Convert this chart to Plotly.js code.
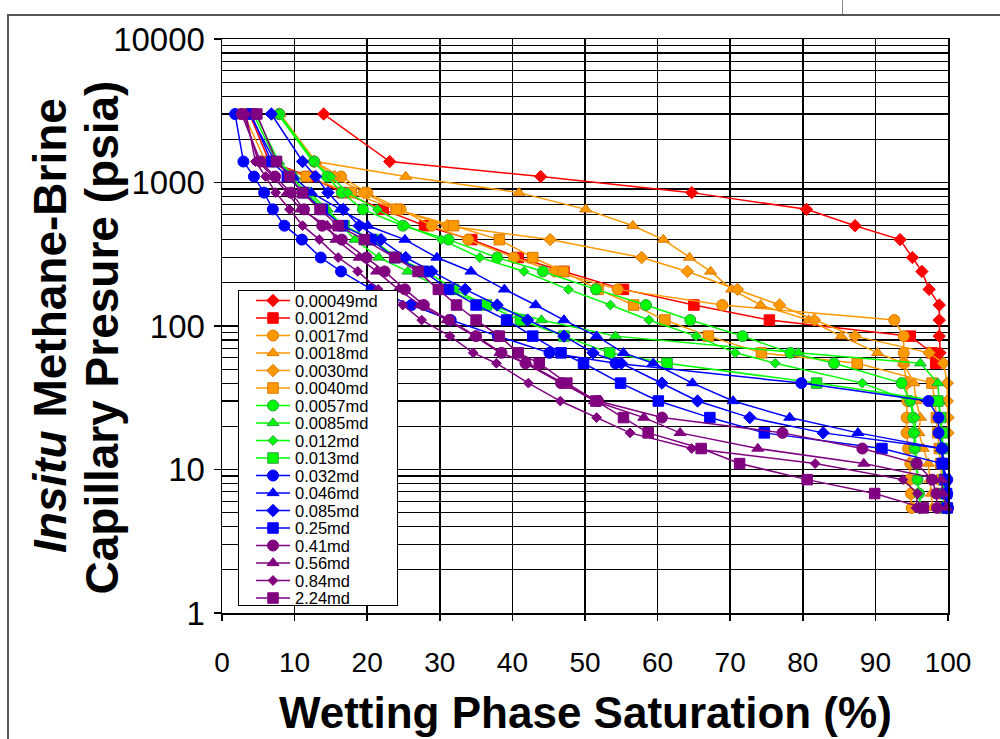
<!DOCTYPE html>
<html>
<head>
<meta charset="utf-8">
<script src="https://cdn.plot.ly/plotly-3.0.1.min.js"></script>
<style>
  html, body { margin: 0; padding: 0; background: #fff; overflow: hidden; }
  #frame { position: absolute; left: 7px; top: 14px; width: 1000px; height: 740px;
           border-left: 2px solid #555; border-top: 2px solid #555; }
  #tab { position: absolute; left: 842px; top: 0; width: 0; height: 14px; border-left: 1px solid #888; }
  #chart { position: absolute; left: 0; top: 0; width: 1000px; height: 739px; }
</style>
</head>
<body>
<div id="frame"></div>
<div id="tab"></div>
<div id="chart"></div>
<script>
// Capillary pressure steps (psia) shared by every sample
const pc = [3000, 1400, 1100, 850, 650, 500, 400, 300, 240, 180, 140, 110,
            85, 65, 55, 40, 30, 23, 18, 14, 11, 8.5, 6.8, 5.4];

// Sample permeabilities (legend labels)
const samples = ["0.00049md", "0.0012md", "0.0017md", "0.0018md", "0.0030md", "0.0040md",
                 "0.0057md", "0.0085md", "0.012md", "0.013md", "0.032md", "0.046md",
                 "0.085md", "0.25md", "0.41md", "0.56md", "0.84md", "2.24md"];

// Wetting phase saturation (%) at each pressure step, one array per sample
const sw_00049 = [14.0, 23.1, 43.9, 64.7, 80.5, 87.2, 93.4, 95.1, 96.4, 97.4, 98.8, 98.8, 98.8, 98.9];
const sw_0012  = [3.8, 6.5, 12.0, 16.6, 22.2, 27.9, 34.4, 40.8, 47.1, 55.3, 65.0, 75.4, 94.8, 97.8, 98.3];
const sw_0017  = [7.9, 12.7, 16.4, 20.0, 24.6, 28.9, 33.9, 40.2, 45.9, 54.5, 68.9, 92.6, 93.9, 93.9, 93.9, 94.3, 94.4, 94.3, 94.3, 94.5, 94.8, 94.7, 94.9, 95.0];
const sw_0018  = [8.0, 12.9, 25.3, 40.9, 50.1, 56.6, 60.8, 64.4, 67.3, 70.2, 74.2, 80.8, 85.3, 90.3, 93.9, 95.3, 95.6, 96.2, 96.0, 96.6, 97.3, 97.5, 97.7, 97.8];
const sw_0030  = [7.9, 12.7, 15.5, 19.5, 24.0, 31.0, 45.2, 57.8, 64.1, 71.0, 76.8, 81.6, 87.2, 97.4, 99.4, 99.9, 99.9, 100, 100];
const sw_0040  = [3.0, 6.0, 11.6, 17.8, 24.0, 31.9, 38.2, 42.8, 47.0, 51.8, 56.7, 61.0, 67.0, 74.3, 87.5, 97.8, 98.2, 98.4, 98.6, 98.8, 99.0, 99.2, 99.3, 99.5];
const sw_0057  = [7.9, 12.7, 14.5, 16.5, 19.4, 24.9, 31.2, 37.9, 44.2, 51.5, 58.4, 64.5, 71.7, 78.3, 84.3, 93.6, 94.8, 95.2, 95.3, 95.4, 95.6, 95.8, 96.0, 96.2];
const sw_0085  = [4.6, 7.8, 10.0, 12.0, 14.5, 16.5, 18.3, 21.6, 25.6, 30.5, 36.5, 44.0, 54.2, 79.4, 96.2, 98.6, 98.8, 99.0, 99.1, 99.2, 99.3, 99.4, 99.4, 99.5];
const sw_012   = [7.7, 12.5, 15.0, 17.3, 21.4, 25.3, 30.2, 35.5, 41.6, 47.7, 53.5, 58.8, 65.3, 70.7, 76.2, 88.2, 94.8, 95.5, 95.5, 95.5, 95.7, 95.9, 96.0, 96.3];
const sw_013   = [4.3, 7.5, 9.5, 11.6, 14.0, 16.8, 20.8, 24.0, 28.2, 31.9, 36.4, 41.1, 47.1, 53.4, 61.3, 81.9, 98.6, 99.0, 99.2, 99.3, 99.4, 99.5, 99.6, 99.7];
const sw_032   = [1.8, 2.95, 4.4, 5.8, 7.0, 8.6, 11.0, 13.6, 16.4, 20.6, 26.1, 31.5, 38.0, 45.1, 54.2, 79.8, 97.3, 98.7, 98.7, 99.2, 99.2, 99.9, 99.9, 100];
const sw_046   = [3.8, 7.3, 9.8, 12.3, 16.3, 20.1, 25.2, 29.6, 34.3, 38.9, 43.2, 47.1, 51.6, 55.3, 59.4, 64.8, 70.4, 78.2, 87.6, 99.1, 99.4, 99.6, 99.8, 99.9];
const sw_085   = [6.8, 11.1, 12.9, 14.6, 16.7, 18.9, 21.9, 25.3, 28.9, 33.5, 37.9, 42.1, 47.1, 51.1, 55.0, 60.6, 65.5, 72.7, 82.8, 99.2, 99.4, 99.6, 99.7, 99.8];
const sw_25    = [4.0, 6.8, 9.0, 11.2, 13.8, 16.6, 20.5, 23.8, 27.8, 31.2, 35.0, 39.2, 42.8, 46.7, 49.8, 54.9, 60.1, 67.2, 74.7, 90.9, 99.2, 99.6, 99.8, 99.9];
const sw_41    = [2.7, 5.3, 7.3, 9.5, 11.3, 13.8, 16.5, 19.9, 22.4, 25.2, 27.8, 31.3, 35.0, 38.5, 41.8, 46.7, 51.8, 60.6, 77.2, 88.2, 95.7, 97.8, 98.4, 98.5];
const sw_56    = [3.0, 5.0, 7.0, 9.0, 10.8, 14.5, 15.7, 18.9, 21.3, 24.3, 27.3, 31.0, 34.8, 38.3, 42.0, 47.0, 51.3, 58.1, 63.1, 73.8, 88.4, 99.1, 99.3, 99.8];
const sw_84    = [3.3, 4.6, 6.0, 7.4, 9.3, 11.1, 13.4, 16.0, 18.7, 21.5, 24.9, 27.5, 31.4, 34.6, 37.8, 42.2, 46.6, 51.6, 56.2, 64.7, 81.7, 93.8, 95.8, 95.6];
const sw_224   = [4.8, 7.5, 9.3, 11.1, 13.5, 16.0, 19.6, 23.8, 27.0, 29.8, 32.3, 35.0, 38.2, 40.8, 43.7, 47.5, 51.5, 55.3, 58.7, 66.0, 71.3, 80.6, 89.9, 96.6];

const satSeries = [sw_00049, sw_0012, sw_0017, sw_0018, sw_0030, sw_0040,
                   sw_0057, sw_0085, sw_012, sw_013, sw_032, sw_046,
                   sw_085, sw_25, sw_41, sw_56, sw_84, sw_224];

// Axis ticks
const xTicks = [0, 10, 20, 30, 40, 50, 60, 70, 80, 90, 100];
const yTicks = [1, 10, 100, 1000, 10000];
const yTickText = ["1", "10", "100", "1000", "10000"];

// Styling per family of samples
const RED = "#FF0000", ORANGE = "#FF9900", GREEN = "#00FF00", BLUE = "#0000FF", PURPLE = "#800080";
const lineColors = [RED, RED, ORANGE, ORANGE, ORANGE, ORANGE, GREEN, GREEN, GREEN, GREEN,
                    BLUE, BLUE, BLUE, BLUE, PURPLE, PURPLE, PURPLE, PURPLE];
const edgeColors = [RED, RED, "#E07800", "#E07800", "#E07800", "#E07800",
                    "#2E9E46", "#2E9E46", "#2E9E46", "#2E9E46",
                    BLUE, BLUE, BLUE, BLUE, PURPLE, PURPLE, PURPLE, PURPLE];
const symbols = ["diamond", "square", "circle", "triangle-up", "diamond", "square",
                 "circle", "triangle-up", "diamond", "square",
                 "circle", "triangle-up", "diamond", "square",
                 "circle", "triangle-up", "diamond", "square"];
const symbolSize = { "diamond": 9.5, "square": 10.5, "circle": 11, "triangle-up": 10.5 };
const smallDiamond = new Set(["0.012md", "0.84md"]);

const FONT = 'Arial, "Liberation Sans", sans-serif';

const traces = samples.map((name, i) => {
  const sw = satSeries[i];
  const sym = symbols[i];
  return {
    type: "scatter",
    mode: "lines+markers",
    x: sw,
    y: pc.slice(0, sw.length),
    name: name,
    line: { color: lineColors[i], width: 1.5 },
    marker: {
      symbol: sym,
      size: smallDiamond.has(name) ? 7.5 : symbolSize[sym],
      color: lineColors[i],
      line: { color: edgeColors[i], width: 1 }
    },
    cliponaxis: false
  };
});

// Minor log grid positions (2..9 within each decade)
const minorVals = [];
for (let e = 0; e < 4; e++) {
  for (let m = 2; m <= 9; m++) minorVals.push(m * Math.pow(10, e));
}

// Legend box geometry (px), row pitch and label size
const LEGEND_LEFT = 238, LEGEND_TOP = 290, LEGEND_W = 159, ROW_FIRST = 10.5, ROW_PITCH = 17.5;
const LEGEND_FONT = 16.5;

const layout = {
  width: 1000,
  height: 739,
  margin: { l: 222, r: 52, t: 39, b: 126, pad: 0 },
  paper_bgcolor: "rgba(0,0,0,0)",
  plot_bgcolor: "#FFFFFF",
  font: { family: FONT, color: "#000" },
  showlegend: true,
  legend: {
    x: 0.022, y: 0.5627, xanchor: "left", yanchor: "top",
    xref: "paper", yref: "paper",
    bgcolor: "#FFFFFF", bordercolor: "#000", borderwidth: 1,
    font: { family: FONT, size: 11, color: "#000" },
    indentation: 12,
    itemwidth: 34
  },
  xaxis: {
    range: [0, 100],
    tickvals: xTicks,
    ticktext: xTicks.map(String),
    showgrid: true, gridcolor: "#000", gridwidth: 1.5,
    showline: true, linecolor: "#000", linewidth: 1.5, mirror: true,
    ticks: "outside", ticklen: 6, tickwidth: 1.5, tickcolor: "#000",
    ticklabelstandoff: 18,
    tickfont: { family: FONT, size: 28, color: "#000" },
    zeroline: false, fixedrange: true, automargin: false
  },
  yaxis: {
    type: "log",
    range: [0, 4],
    tickvals: yTicks,
    ticktext: yTickText,
    showgrid: true, gridcolor: "#000", gridwidth: 1.5,
    showline: true, linecolor: "#000", linewidth: 1.5, mirror: true,
    ticks: "outside", ticklen: 7, tickwidth: 1.5, tickcolor: "#000",
    ticklabelstandoff: 2,
    tickfont: { family: FONT, size: 33, color: "#000" },
    minor: { tickvals: minorVals, showgrid: true, gridcolor: "#000", gridwidth: 1.2, ticks: "" },
    zeroline: false, fixedrange: true, automargin: false
  },
  annotations: [
    {
      text: "Wetting Phase Saturation (%)",
      xref: "paper", yref: "paper", x: 0.5, y: -0.174,
      xanchor: "center", yanchor: "middle", showarrow: false,
      font: { family: FONT, size: 44, color: "#000", weight: "bold" }
    },
    {
      text: "<i>Insitu</i> Methane-Brine",
      xref: "paper", yref: "paper", x: (50 - 222) / 726, y: 0.5,
      xanchor: "center", yanchor: "middle", textangle: -90, showarrow: false,
      font: { family: FONT, size: 46, color: "#000", weight: "bold" }
    },
    {
      text: "Capillary Presure (psia)",
      xref: "paper", yref: "paper", x: (102 - 222) / 726, y: 0.48,
      xanchor: "center", yanchor: "middle", textangle: -90, showarrow: false,
      font: { family: FONT, size: 46, color: "#000", weight: "bold" }
    }
  ]
};

const gd = document.getElementById("chart");
Plotly.newPlot(gd, traces, layout, { staticPlot: true, displayModeBar: false }).then(() => {
  // Compact legend: larger labels on a tight row pitch, box pinned in place.
  const leg = gd.querySelector("g.legend");
  if (!leg) return;
  const scroll = leg.querySelector("g.scrollbox");
  if (scroll) scroll.removeAttribute("clip-path");
  const items = leg.querySelectorAll("g.traces");
  items.forEach((g, i) => {
    const m = /translate\(\s*([-\d.e]+)[\s,]+([-\d.e]+)\s*\)/.exec(g.getAttribute("transform") || "");
    const tx = m ? parseFloat(m[1]) : 1;
    g.setAttribute("transform", "translate(" + tx + "," + (ROW_FIRST + i * ROW_PITCH) + ")");
    const t = g.querySelector("text.legendtext");
    if (t) {
      t.style.fontSize = LEGEND_FONT + "px";
      t.setAttribute("y", 6);
    }
  });
  const boxH = ROW_FIRST * 2 + (items.length - 1) * ROW_PITCH - 4;
  const bg = leg.querySelector("rect.bg");
  if (bg) {
    bg.setAttribute("x", 0.5);
    bg.setAttribute("y", 0.5);
    bg.setAttribute("width", LEGEND_W);
    bg.setAttribute("height", boxH);
  }
  leg.setAttribute("transform", "translate(" + LEGEND_LEFT + "," + LEGEND_TOP + ")");
});
</script>
</body>
</html>
